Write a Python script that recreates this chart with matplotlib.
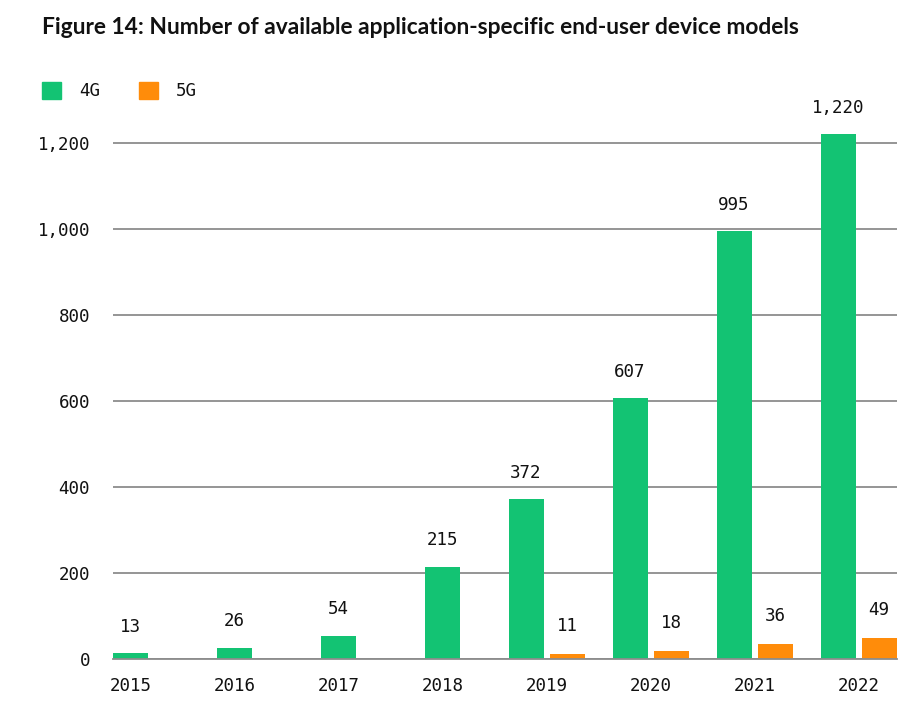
import matplotlib
matplotlib.use("Agg")
import matplotlib.pyplot as plt
from matplotlib.patches import Rectangle

years = ["2015", "2016", "2017", "2018", "2019", "2020", "2021", "2022"]
values_4g = [13, 26, 54, 215, 372, 607, 995, 1220]
values_5g = [None, None, None, None, 11, 18, 36, 49]
y_ticks = [0, 200, 400, 600, 800, 1000, 1200]
title = "Figure 14: Number of available application-specific end-user device models"

GREEN = "#13C373"
ORANGE = "#FF8C0A"
GRID = "#8c8c8c"
W, H = 898, 717

fig = plt.figure(figsize=(W / 100, H / 100), dpi=100)
fig.patch.set_facecolor("white")

ymax = 1300
px_per_unit = 0.43
ax_left, ax_right = 113, 897
ax_bottom_px = 659
ax_h = ymax * px_per_unit
ax = fig.add_axes([ax_left / W, (H - ax_bottom_px) / H, (ax_right - ax_left) / W, ax_h / H])

spacing = 104.0
x0 = -(130.5 - ax_left) / spacing
x1 = x0 + (ax_right - ax_left) / spacing
ax.set_xlim(x0, x1)
ax.set_ylim(0, ymax)

bw = 35 / spacing
off = 41 / spacing / 2
mono = "DejaVu Sans Mono"
fs = 12.6

for i, (g, o) in enumerate(zip(values_4g, values_5g)):
    if o is None:
        gx = i
    else:
        gx = i - off
        ox = i + off
        ax.bar(ox, o, width=bw, color=ORANGE, zorder=3)
        ax.annotate(f"{o:,}", (ox, o), xytext=(0, 20), textcoords="offset points",
                    ha="center", va="center", fontsize=fs, family=mono, color="#111111")
    ax.bar(gx, g, width=bw, color=GREEN, zorder=3)
    ax.annotate(f"{g:,}", (gx, g), xytext=(0, 19), textcoords="offset points",
                ha="center", va="center", fontsize=fs, family=mono, color="#111111")

ax.set_yticks(y_ticks)
ax.set_yticklabels([f"{t:,}" for t in y_ticks], family=mono, fontsize=fs, color="#111111")
ax.set_xticks(range(len(years)))
ax.set_xticklabels(years, family=mono, fontsize=fs, color="#111111")
ax.tick_params(axis="both", length=0)
ax.tick_params(axis="y", pad=16.5)
ax.tick_params(axis="x", pad=13)
for s in ax.spines.values():
    s.set_visible(False)
ax.yaxis.grid(True, color=GRID, linewidth=1.3)
ax.set_axisbelow(True)
ax.axhline(0, color=GRID, linewidth=1.3, zorder=4, clip_on=False)

fig.text(42 / W, 1 - 28 / H, title, fontsize=16.4, fontweight="bold", family="Lato",
         ha="left", va="center", color="#111111")

# legend
for lx, tx, lab, col in [(42, 79, "4G", GREEN), (139, 176, "5G", ORANGE)]:
    fig.add_artist(Rectangle((lx / W, 1 - 99 / H), 19 / W, 17 / H,
                             transform=fig.transFigure, color=col))
    fig.text(tx / W, 1 - 91 / H, lab, fontsize=fs, family=mono, ha="left", va="center",
             color="#111111")

fig.savefig("out.png", dpi=100, facecolor="white")
